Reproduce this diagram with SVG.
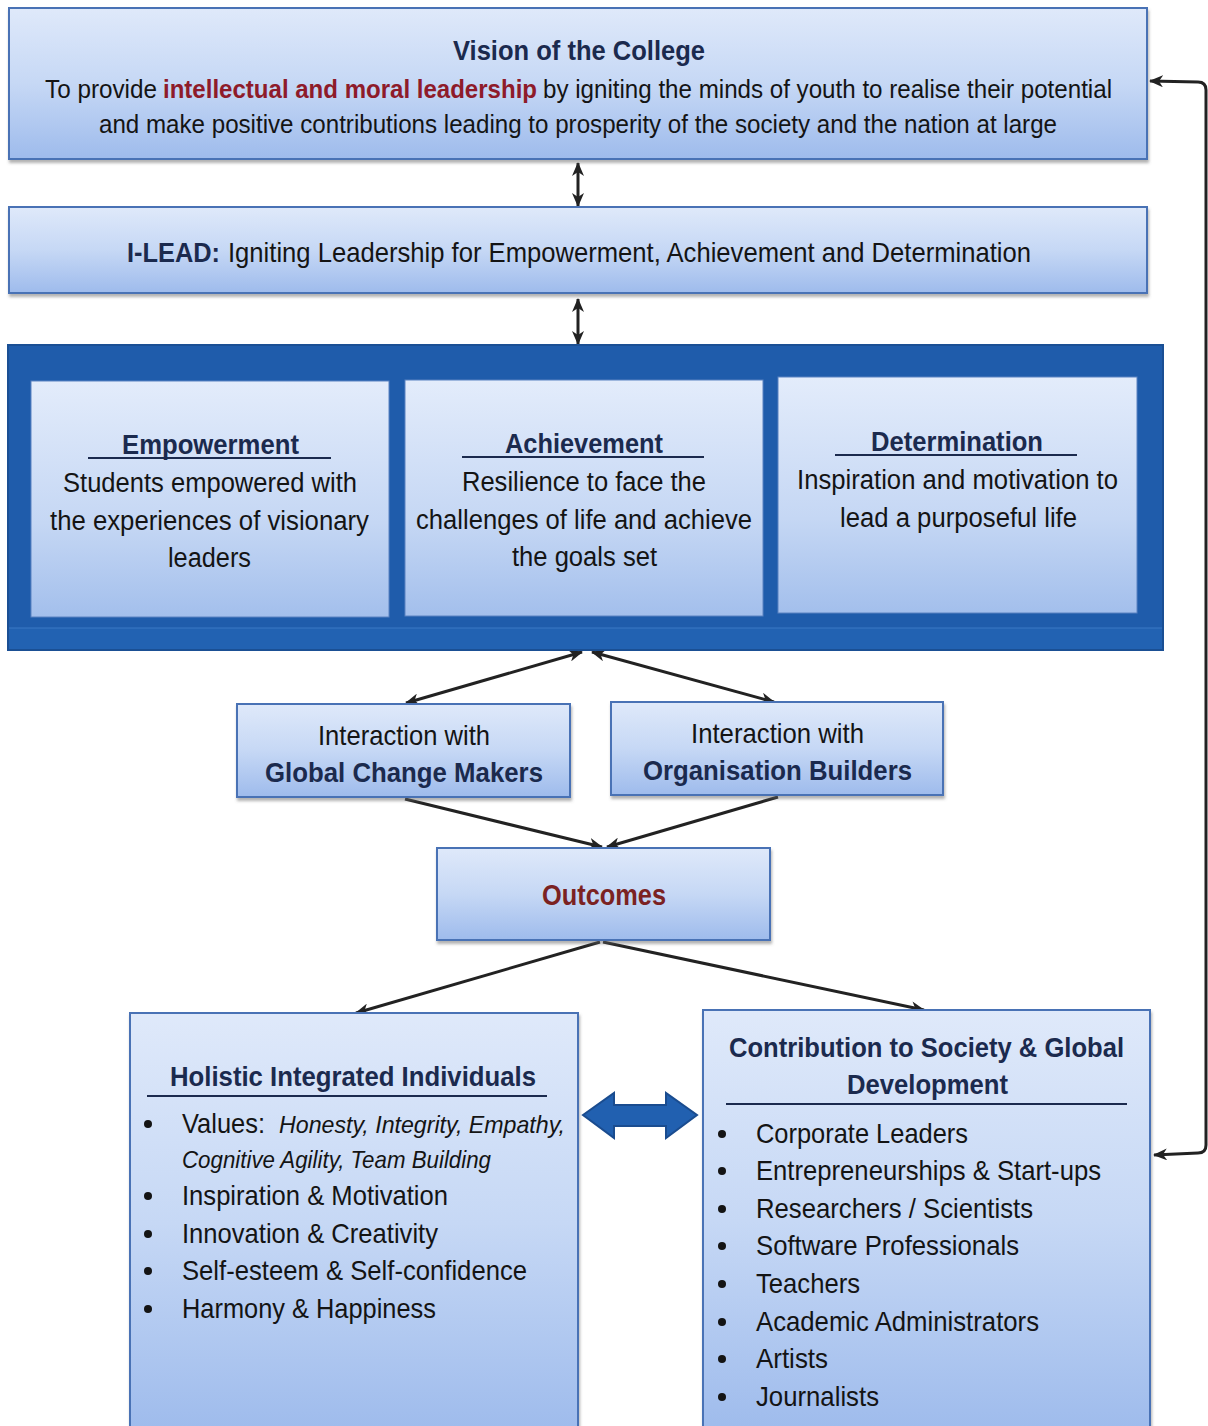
<svg xmlns="http://www.w3.org/2000/svg" width="1208" height="1426" viewBox="0 0 1208 1426">
<style>
.t{font-family:"Liberation Sans Narrow","Liberation Sans",Arial,sans-serif;fill:#141414}
.b{font-weight:bold;fill:#1b2a4e}
.red{font-weight:bold;fill:#8e1b2a}
.i{font-style:italic}
.box{fill:url(#g);stroke:#4a72b5;stroke-width:2;filter:url(#sh)}
.ibox{fill:url(#g2);stroke:#5b82c2;stroke-width:1}
.ul{stroke:#1b2a4e;stroke-width:2}
.con{fill:none;stroke:#222;stroke-width:3}
</style>
<defs>
<linearGradient id="g" x1="0" y1="0" x2="0" y2="1">
<stop offset="0" stop-color="#dfe9fa"/>
<stop offset="0.5" stop-color="#c6d8f5"/>
<stop offset="1" stop-color="#9ebbec"/>
</linearGradient>
<linearGradient id="g2" x1="0" y1="0" x2="0" y2="1">
<stop offset="0" stop-color="#e3ecfb"/>
<stop offset="0.6" stop-color="#c5d7f4"/>
<stop offset="1" stop-color="#a3bfec"/>
</linearGradient>
<filter id="sh" x="-5%" y="-5%" width="110%" height="115%">
<feDropShadow dx="1" dy="3" stdDeviation="1.5" flood-color="#666" flood-opacity="0.5"/>
</filter>
<marker id="ah" viewBox="0 0 14 12" refX="13" refY="6" markerWidth="14" markerHeight="12" markerUnits="userSpaceOnUse" orient="auto-start-reverse">
<path d="M0,0 L14,6 L0,12 L4,6 Z" fill="#222"/>
</marker>
</defs>

<g id="connectors">
<line class="con" x1="578" y1="163" x2="578" y2="206" marker-start="url(#ah)" marker-end="url(#ah)"/>
<line class="con" x1="578" y1="299" x2="578" y2="344" marker-start="url(#ah)" marker-end="url(#ah)"/>
<line class="con" x1="582" y1="652" x2="406" y2="703" marker-start="url(#ah)" marker-end="url(#ah)"/>
<line class="con" x1="592" y1="652" x2="774" y2="702" marker-start="url(#ah)" marker-end="url(#ah)"/>
<line class="con" x1="405" y1="799" x2="602" y2="847" marker-end="url(#ah)"/>
<line class="con" x1="778" y1="797" x2="607" y2="847" marker-end="url(#ah)"/>
<line class="con" x1="600" y1="942" x2="356" y2="1013" marker-end="url(#ah)"/>
<line class="con" x1="603" y1="942" x2="924" y2="1010" marker-end="url(#ah)"/>
<path class="con" d="M1154,1155 L1198,1153 Q1206,1153 1206,1145 L1206,90 Q1206,82 1198,82 L1150,81" marker-start="url(#ah)" marker-end="url(#ah)"/>
<path d="M583,1115 L614,1093 L614,1105 L666,1105 L666,1093 L697,1115 L666,1138 L666,1126 L614,1126 L614,1138 Z" fill="#2160b0" stroke="#1a4c8f" stroke-width="2"/>
</g>

<g id="vision">
<rect class="box" x="9" y="8" width="1138" height="151"/>
<text class="t b" x="453" y="60" font-size="27" textLength="252" lengthAdjust="spacingAndGlyphs">Vision of the College</text>
<text class="t" x="45" y="98" font-size="26" textLength="112" lengthAdjust="spacingAndGlyphs">To provide</text>
<text class="t red" x="163" y="98" font-size="26" textLength="374" lengthAdjust="spacingAndGlyphs">intellectual and moral leadership</text>
<text class="t" x="543" y="98" font-size="26" textLength="569" lengthAdjust="spacingAndGlyphs">by igniting the minds of youth to realise their potential</text>
<text class="t" x="99" y="133" font-size="26" textLength="958" lengthAdjust="spacingAndGlyphs">and make positive contributions leading to prosperity of the society and the nation at large</text>
</g>

<g id="ilead">
<rect class="box" x="9" y="207" width="1138" height="86"/>
<text class="t b" x="127" y="262" font-size="28" textLength="93" lengthAdjust="spacingAndGlyphs">I-LEAD:</text>
<text class="t" x="228" y="262" font-size="28" textLength="803" lengthAdjust="spacingAndGlyphs">Igniting Leadership for Empowerment, Achievement and Determination</text>
</g>

<g id="pillars">
<rect x="8" y="345" width="1155" height="305" fill="#1f5cab" stroke="#1a4f94" stroke-width="2"/>
<rect x="9" y="628" width="1153" height="21" fill="#2262b2"/>
<line x1="9" y1="628" x2="1162" y2="628" stroke="#3a78c4" stroke-width="1"/>
</g>

<g id="empowerment">
<rect class="ibox" x="31" y="381" width="358" height="236"/>
<text class="t b" x="122" y="454" font-size="28" textLength="177" lengthAdjust="spacingAndGlyphs">Empowerment</text>
<line class="ul" x1="88" y1="458" x2="331" y2="458"/>
<text class="t" x="63" y="492" font-size="27" textLength="294" lengthAdjust="spacingAndGlyphs">Students empowered with</text>
<text class="t" x="50" y="530" font-size="27" textLength="319" lengthAdjust="spacingAndGlyphs">the experiences of visionary</text>
<text class="t" x="168" y="567" font-size="27" textLength="83" lengthAdjust="spacingAndGlyphs">leaders</text>
</g>

<g id="achievement">
<rect class="ibox" x="405" y="380" width="358" height="236"/>
<text class="t b" x="505" y="453" font-size="28" textLength="158" lengthAdjust="spacingAndGlyphs">Achievement</text>
<line class="ul" x1="462" y1="457" x2="704" y2="457"/>
<text class="t" x="462" y="491" font-size="27" textLength="244" lengthAdjust="spacingAndGlyphs">Resilience to face the</text>
<text class="t" x="416" y="529" font-size="27" textLength="336" lengthAdjust="spacingAndGlyphs">challenges of life and achieve</text>
<text class="t" x="512" y="566" font-size="27" textLength="145" lengthAdjust="spacingAndGlyphs">the goals set</text>
</g>

<g id="determination">
<rect class="ibox" x="778" y="377" width="359" height="236"/>
<text class="t b" x="871" y="451" font-size="28" textLength="172" lengthAdjust="spacingAndGlyphs">Determination</text>
<line class="ul" x1="835" y1="455" x2="1077" y2="455"/>
<text class="t" x="797" y="489" font-size="27" textLength="321" lengthAdjust="spacingAndGlyphs">Inspiration and motivation to</text>
<text class="t" x="840" y="527" font-size="27" textLength="237" lengthAdjust="spacingAndGlyphs">lead a purposeful life</text>
</g>

<g id="global">
<rect class="box" x="237" y="704" width="333" height="93"/>
<text class="t" x="318" y="745" font-size="28" textLength="172" lengthAdjust="spacingAndGlyphs">Interaction with</text>
<text class="t b" x="265" y="782" font-size="28" textLength="278" lengthAdjust="spacingAndGlyphs">Global Change Makers</text>
</g>

<g id="organisation">
<rect class="box" x="611" y="702" width="332" height="93"/>
<text class="t" x="691" y="743" font-size="28" textLength="173" lengthAdjust="spacingAndGlyphs">Interaction with</text>
<text class="t b" x="643" y="780" font-size="28" textLength="269" lengthAdjust="spacingAndGlyphs">Organisation Builders</text>
</g>

<g id="outcomes">
<rect class="box" x="437" y="848" width="333" height="92"/>
<text class="t red" x="542" y="905" font-size="29" textLength="124" lengthAdjust="spacingAndGlyphs" style="fill:#7b2222">Outcomes</text>
</g>

<g id="holistic">
<rect class="box" x="130" y="1013" width="448" height="420"/>
<text class="t b" x="170" y="1086" font-size="28" textLength="366" lengthAdjust="spacingAndGlyphs">Holistic Integrated Individuals</text>
<line class="ul" x1="147" y1="1096" x2="547" y2="1096"/>
<g fill="#141414">
<circle cx="148" cy="1124" r="4"/><circle cx="148" cy="1196" r="4"/><circle cx="148" cy="1234" r="4"/><circle cx="148" cy="1271" r="4"/><circle cx="148" cy="1309" r="4"/>
</g>
<text class="t" x="182" y="1133" font-size="28" textLength="83" lengthAdjust="spacingAndGlyphs">Values:</text>
<text class="t i" x="279" y="1133" font-size="24" textLength="286" lengthAdjust="spacingAndGlyphs">Honesty,  Integrity,  Empathy,</text>
<text class="t i" x="182" y="1168" font-size="24" textLength="309" lengthAdjust="spacingAndGlyphs">Cognitive Agility, Team Building</text>
<text class="t" x="182" y="1205" font-size="28" textLength="266" lengthAdjust="spacingAndGlyphs">Inspiration &amp; Motivation</text>
<text class="t" x="182" y="1243" font-size="28" textLength="256" lengthAdjust="spacingAndGlyphs">Innovation &amp; Creativity</text>
<text class="t" x="182" y="1280" font-size="28" textLength="345" lengthAdjust="spacingAndGlyphs">Self-esteem &amp; Self-confidence</text>
<text class="t" x="182" y="1318" font-size="28" textLength="254" lengthAdjust="spacingAndGlyphs">Harmony &amp; Happiness</text>
</g>

<g id="contribution">
<rect class="box" x="703" y="1010" width="447" height="423"/>
<text class="t b" x="729" y="1057" font-size="28" textLength="395" lengthAdjust="spacingAndGlyphs">Contribution to Society &amp; Global</text>
<text class="t b" x="847" y="1094" font-size="28" textLength="161" lengthAdjust="spacingAndGlyphs">Development</text>
<line class="ul" x1="726" y1="1104" x2="1127" y2="1104"/>
<g fill="#141414">
<circle cx="722" cy="1134" r="4"/><circle cx="722" cy="1171" r="4"/><circle cx="722" cy="1209" r="4"/><circle cx="722" cy="1246" r="4"/><circle cx="722" cy="1284" r="4"/><circle cx="722" cy="1322" r="4"/><circle cx="722" cy="1359" r="4"/><circle cx="722" cy="1397" r="4"/>
</g>
<text class="t" x="756" y="1143" font-size="28" textLength="212" lengthAdjust="spacingAndGlyphs">Corporate Leaders</text>
<text class="t" x="756" y="1180" font-size="28" textLength="345" lengthAdjust="spacingAndGlyphs">Entrepreneurships &amp; Start-ups</text>
<text class="t" x="756" y="1218" font-size="28" textLength="277" lengthAdjust="spacingAndGlyphs">Researchers / Scientists</text>
<text class="t" x="756" y="1255" font-size="28" textLength="263" lengthAdjust="spacingAndGlyphs">Software Professionals</text>
<text class="t" x="756" y="1293" font-size="28" textLength="104" lengthAdjust="spacingAndGlyphs">Teachers</text>
<text class="t" x="756" y="1331" font-size="28" textLength="283" lengthAdjust="spacingAndGlyphs">Academic Administrators</text>
<text class="t" x="756" y="1368" font-size="28" textLength="72" lengthAdjust="spacingAndGlyphs">Artists</text>
<text class="t" x="756" y="1406" font-size="28" textLength="123" lengthAdjust="spacingAndGlyphs">Journalists</text>
</g>
</svg>
